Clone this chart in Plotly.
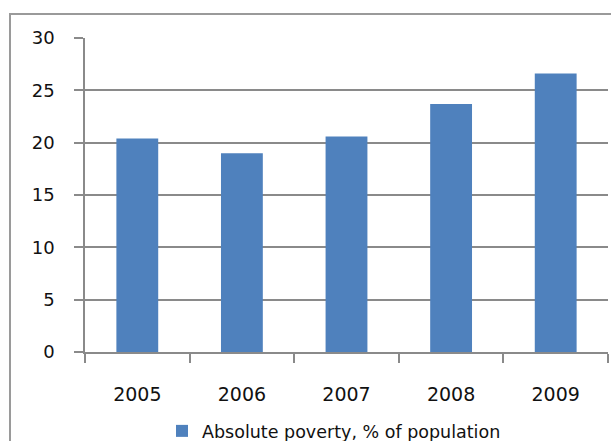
import plotly.graph_objects as go

years = ["2005", "2006", "2007", "2008", "2009"]
poverty = [20.4, 19.0, 20.6, 23.7, 26.6]
series_name = "Absolute poverty, % of population"
y_ticks = [0, 5, 10, 15, 20, 25, 30]

W, H = 611, 441
ml, mr, mt, mb = 85, 3, 38, 89
pw = W - ml - mr
ph = H - mt - mb

def px_x(x):
    return (x - ml) / pw

def px_y(y):
    return (H - mb - y) / ph

fig = go.Figure()
fig.add_trace(go.Bar(
    x=years, y=poverty, name=series_name,
    marker=dict(color="#4F81BD", line=dict(width=0)),
    showlegend=True,
))

grid_col = "#8a8a8a"
font = "DejaVu Sans"
txt = "#111111"

fig.update_layout(
    width=W, height=H,
    margin=dict(l=ml, r=mr, t=mt, b=mb, pad=0, autoexpand=False),
    paper_bgcolor="white", plot_bgcolor="white",
    bargap=0.6,
    font=dict(family=font, size=18, color=txt),
    showlegend=True,
    legend=dict(
        orientation="h", x=px_x(334), xanchor="center",
        y=px_y(431), yanchor="middle",
        font=dict(family=font, size=17.5, color=txt),
        itemwidth=30, bgcolor="rgba(0,0,0,0)",
    ),
    xaxis=dict(
        type="category", tickson="boundaries",
        ticks="outside", ticklen=9, tickwidth=1.5, tickcolor=grid_col,
        showline=True, linecolor=grid_col, linewidth=1.5,
        showgrid=False, zeroline=False,
        ticklabelstandoff=24,
        tickfont=dict(family=font, size=19, color=txt),
    ),
    yaxis=dict(
        range=[0, 30], tickmode="array", tickvals=y_ticks,
        ticktext=[str(v) for v in y_ticks],
        ticks="outside", ticklen=9, tickwidth=1.5, tickcolor=grid_col,
        showline=True, linecolor=grid_col, linewidth=1.5,
        showgrid=True, gridcolor=grid_col, gridwidth=1.5,
        zeroline=False,
        ticklabelstandoff=16,
        tickfont=dict(family=font, size=18, color=txt),
    ),
    shapes=[dict(
        type="rect", xref="paper", yref="paper",
        x0=px_x(10), x1=px_x(W + 20), y0=px_y(H + 20), y1=px_y(14),
        line=dict(color="#9a9a9a", width=2), fillcolor="rgba(0,0,0,0)",
        layer="below",
    )],
)

fig.write_html("out.html")
